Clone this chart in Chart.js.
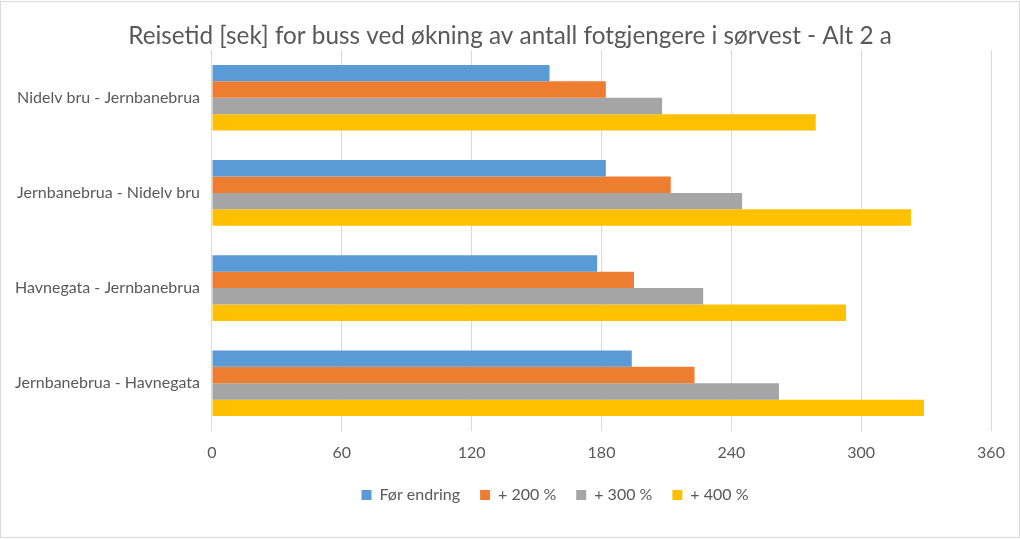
<!DOCTYPE html>
<html>
<head>
<meta charset="utf-8">
<script src="https://cdn.jsdelivr.net/npm/chart.js@4"></script>
<style>
  html, body { margin: 0; padding: 0; background: #fff; }
  #wrap { position: relative; width: 1018px; height: 535px; border: 1px solid #d9d9d9; margin: 1px 0 0 0; }
</style>
</head>
<body>
<div id="wrap"><canvas id="reisetid"></canvas></div>
<script>
// strekninger, vist ovenfra og ned
const categories = ['Nidelv bru - Jernbanebrua', 'Jernbanebrua - Nidelv bru', 'Havnegata - Jernbanebrua', 'Jernbanebrua - Havnegata'];
const forEndring = [156, 182, 178, 194];
const pluss200 = [182, 212, 195, 223];
const pluss300 = [208, 245, 227, 262];
const pluss400 = [279, 323, 293, 329];
const xTicks = [0, 60, 120, 180, 240, 300, 360];

const font = "Lato, 'Open Sans', sans-serif";
const grey = '#595959';

// flytt tittel og legende litt, som i Excel-originalen
const boxShift = {
    id: 'boxShift',
    afterLayout(chart) {
        chart.titleBlock.left += 9;
        chart.titleBlock.right += 9;
        chart.titleBlock.top += 1;
        chart.titleBlock.bottom += 1;
        chart.legend.left += 54;
        chart.legend.right += 54;
        chart.legend.top -= 7;
        chart.legend.bottom -= 7;
    }
};

const ctx = document.getElementById('reisetid');
const chart = new Chart(ctx, {
    type: 'bar',
    data: {
        labels: categories,
        datasets: [
            { label: 'Før endring', data: forEndring, backgroundColor: '#5b9bd5' },
            { label: '+ 200 %', data: pluss200, backgroundColor: '#ed7d31' },
            { label: '+ 300 %', data: pluss300, backgroundColor: '#a5a5a5' },
            { label: '+ 400 %', data: pluss400, backgroundColor: '#ffc000' }
        ]
    },
    options: {
        indexAxis: 'y',
        responsive: true,
        maintainAspectRatio: false,
        animation: false,
        layout: { padding: { left: 10, right: 28, top: 0, bottom: 17 } },
        datasets: { bar: { categoryPercentage: 0.69, barPercentage: 1.0 } },
        scales: {
            x: {
                min: 0,
                max: 360,
                afterBuildTicks: axis => { axis.ticks = xTicks.map(v => ({ value: v })); },
                grid: { color: '#d9d9d9', drawTicks: false },
                border: { display: false },
                ticks: { color: grey, font: { family: font, size: 16 }, padding: 12 }
            },
            y: {
                grid: { display: false },
                border: { display: false },
                ticks: { color: grey, font: { family: font, size: 16 }, padding: 4 }
            }
        },
        plugins: {
            title: {
                display: true,
                text: 'Reisetid [sek] for buss ved økning av antall fotgjengere i sørvest - Alt 2 a',
                color: grey,
                font: { family: font, size: 24.3, weight: 'normal' },
                padding: { top: 19, bottom: 0 }
            },
            legend: {
                position: 'bottom',
                labels: {
                    color: grey,
                    font: { family: font, size: 16 },
                    boxWidth: 10,
                    boxHeight: 10,
                    padding: 20
                }
            },
            tooltip: { enabled: false }
        }
    },
    plugins: [boxShift]
});
</script>
</body>
</html>
